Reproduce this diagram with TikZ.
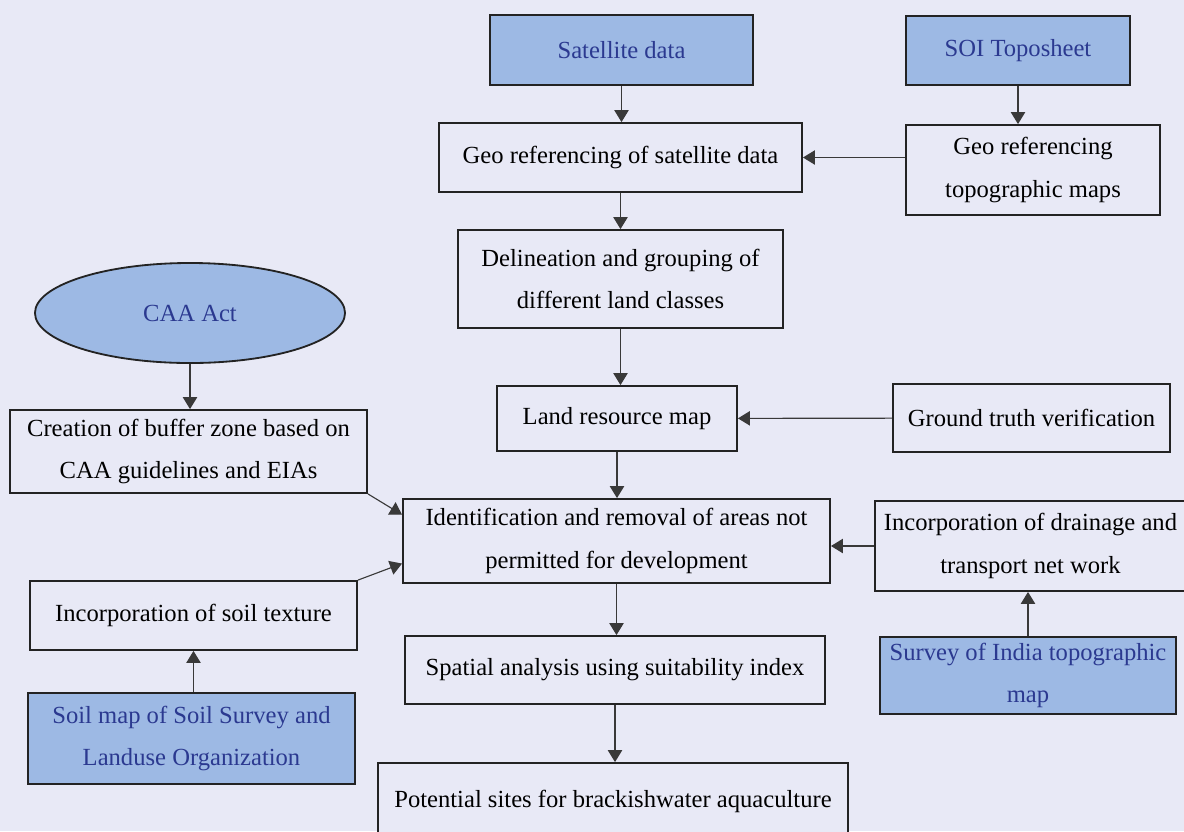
\documentclass[tikz,border=0pt]{standalone}
\usepackage{fontspec}
\setmainfont{Liberation Serif}
\usepackage{xcolor}
\usetikzlibrary{shapes.geometric, arrows.meta, positioning, calc}
\definecolor{bgcol}{HTML}{E8E9F6}
\definecolor{srcfill}{HTML}{9DB9E4}
\definecolor{srctext}{HTML}{2B3990}
\definecolor{linecol}{HTML}{232323}

\begin{document}
\begin{tikzpicture}[
    x=0.025cm, y=-0.025cm,
    box/.style={rectangle, draw=linecol, line width=1.3pt, fill=bgcol, align=center, inner sep=0pt, font=\fontsize{17.5}{30}\selectfont},
    src/.style={box, fill=srcfill, text=srctext},
    arr/.style={-{Triangle[length=0.3cm, width=0.36cm]}, line width=0.8pt, draw=linecol!90}
]
\fill[bgcol] (0,0) rectangle (1184,831);
\useasboundingbox (0,0) rectangle (1184,831);

% Data sources
\node[src, minimum width=6.575cm, minimum height=1.75cm] (sat) at (621.5,50) {Satellite data};
\node[src, minimum width=5.6cm, minimum height=1.725cm] (soi) at (1018,50.5) {SOI Toposheet};
\node[src, ellipse, minimum width=7.75cm, minimum height=2.5cm] (caa) at (190,313) {CAA Act};
\node[src, minimum width=7.4cm, minimum height=1.925cm] (survey) at (1028,675.5) {Survey of India topographic\\map};
\node[src, minimum width=8.175cm, minimum height=2.275cm] (soilmap) at (191.5,738.5) {Soil map of Soil Survey and\\Landuse Organization};

% Processing steps
\node[box, minimum width=9.075cm, minimum height=1.725cm] (geosat) at (620.5,157.5) {Geo referencing of satellite data};
\node[box, minimum width=6.35cm, minimum height=2.25cm] (geotopo) at (1033,170) {Geo referencing\\topographic maps};
\node[box, minimum width=8.125cm, minimum height=2.45cm] (delin) at (620.5,279) {Delineation and grouping of\\different land classes};
\node[box, minimum width=6cm, minimum height=1.625cm] (landres) at (617,418.5) {Land resource map};
\node[box, minimum width=6.925cm, minimum height=1.7cm] (ground) at (1031.5,418) {Ground truth verification};
\node[box, minimum width=8.925cm, minimum height=2.075cm] (buffer) at (188.5,451.5) {Creation of buffer zone based on\\CAA guidelines and EIAs};
\node[box, minimum width=10.675cm, minimum height=2.1cm] (ident) at (616.5,541) {Identification and removal of areas not\\permitted for development};
\node[box, minimum width=7.775cm, minimum height=2.25cm] (drain) at (1030.5,546) {Incorporation of drainage and\\transport net work};
\node[box, minimum width=8.175cm, minimum height=1.725cm] (texture) at (193.5,615.5) {Incorporation of soil texture};
\node[box, minimum width=10.5cm, minimum height=1.7cm] (spatial) at (615,670) {Spatial analysis using suitability index};
\node[box, minimum width=11.75cm, minimum height=1.925cm] (potential) at (613,801.5) {Potential sites for brackishwater aquaculture};

% Arrows
\draw[arr] (sat) -- (sat |- geosat.north);
\draw[arr] (soi) -- (soi |- geotopo.north);
\draw[arr] (geotopo.west |- geosat) -- (geosat.east);
\draw[arr] (geosat.south) -- (geosat.south |- delin.north);
\draw[arr] (delin.south) -- (delin.south |- landres.north);
\draw[arr] (ground) -- (landres);
\draw[arr] (landres.south) -- (landres.south |- ident.north);
\draw[arr] (caa) -- (caa |- buffer.north);
\draw[arr] (buffer.south east) -- (ident.173);
\draw[arr] (texture.north east) -- (ident.186);
\draw[arr] (drain.west) -- (ident.east |- drain.west);
\draw[arr] (survey) -- (survey |- drain.south);
\draw[arr] (soilmap.north -| texture) -- (texture.south);
\draw[arr] (ident.south) -- (ident.south |- spatial.north);
\draw[arr] (spatial.south) -- (spatial.south |- potential.north);
\end{tikzpicture}
\end{document}
